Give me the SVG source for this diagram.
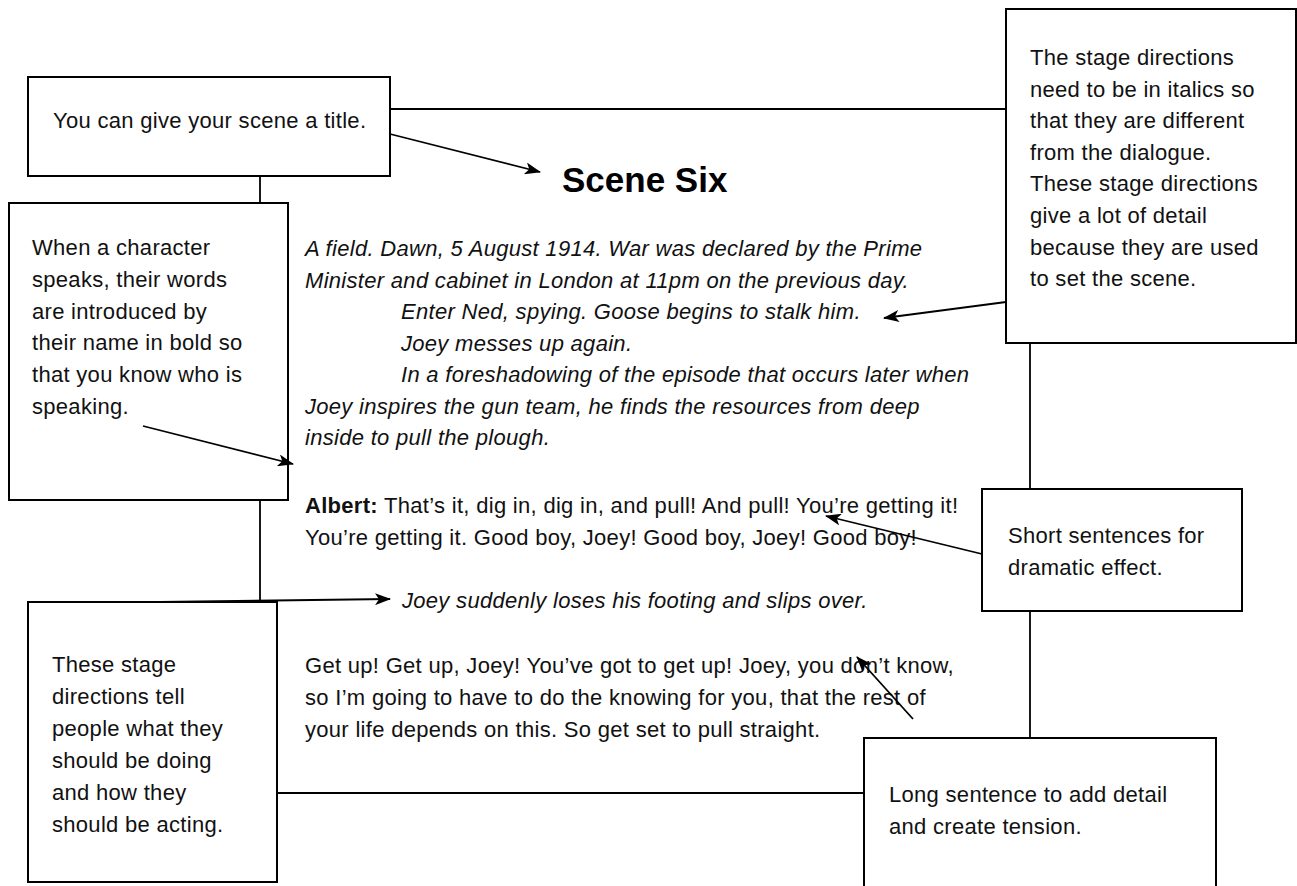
<svg xmlns="http://www.w3.org/2000/svg" width="1297" height="886" viewBox="0 0 1297 886">
<defs>
<style>
.box{fill:#fff;stroke:#000;stroke-width:2}
.t{font-family:"Liberation Sans",Arial,Helvetica,sans-serif;font-size:22px;letter-spacing:0.3px;fill:#111}
.i{font-style:italic}
.b{font-weight:bold}
.ttl{font-family:"Liberation Sans",Arial,Helvetica,sans-serif;font-size:35px;font-weight:bold;fill:#000}
.c{fill:none;stroke:#000;stroke-width:1.8}
.a{marker-end:url(#ah)}
</style>
<marker id="ah" markerUnits="userSpaceOnUse" markerWidth="16" markerHeight="12" refX="15" refY="6" orient="auto">
<path d="M0,0 L16,6 L0,12 L4,6 Z" fill="#000"/>
</marker>
</defs>
<rect width="1297" height="886" fill="#fff"/>

<g id="node-title-note">
<rect class="box" x="28" y="77" width="362" height="99"/>
<text class="t" x="53" y="128">You can give your scene a title.</text>
</g>

<g id="node-stage-note">
<rect class="box" x="1006" y="9" width="290" height="334"/>
<text class="t" x="1030" y="65">The stage directions</text>
<text class="t" x="1030" y="96.6">need to be in italics so</text>
<text class="t" x="1030" y="128.2">that they are different</text>
<text class="t" x="1030" y="159.8">from the dialogue.</text>
<text class="t" x="1030" y="191.4">These stage directions</text>
<text class="t" x="1030" y="223">give a lot of detail</text>
<text class="t" x="1030" y="254.6">because they are used</text>
<text class="t" x="1030" y="286.2">to set the scene.</text>
</g>

<g id="node-character-note">
<rect class="box" x="9" y="203" width="279" height="297"/>
<text class="t" x="32" y="255">When a character</text>
<text class="t" x="32" y="287">speaks, their words</text>
<text class="t" x="32" y="318.5">are introduced by</text>
<text class="t" x="32" y="350">their name in bold so</text>
<text class="t" x="32" y="382">that you know who is</text>
<text class="t" x="32" y="413.5">speaking.</text>
</g>

<g id="node-action-note">
<rect class="box" x="28" y="602" width="249" height="280"/>
<text class="t" x="52" y="672">These stage</text>
<text class="t" x="52" y="704">directions tell</text>
<text class="t" x="52" y="736">people what they</text>
<text class="t" x="52" y="768">should be doing</text>
<text class="t" x="52" y="800">and how they</text>
<text class="t" x="52" y="832">should be acting.</text>
</g>

<g id="node-short-note">
<rect class="box" x="982" y="489" width="260" height="122"/>
<text class="t" x="1008" y="543">Short sentences for</text>
<text class="t" x="1008" y="575">dramatic effect.</text>
</g>

<g id="node-long-note">
<rect class="box" x="864" y="738" width="352" height="170"/>
<text class="t" x="889" y="802">Long sentence to add detail</text>
<text class="t" x="889" y="834">and create tension.</text>
</g>

<g id="node-scene-title">
<text class="ttl" x="562" y="192">Scene Six</text>
</g>

<g id="node-script">
<text class="t i" x="305" y="256">A field. Dawn, 5 August 1914. War was declared by the Prime</text>
<text class="t i" x="305" y="287.5">Minister and cabinet in London at 11pm on the previous day.</text>
<text class="t i" x="401" y="319">Enter Ned, spying. Goose begins to stalk him.</text>
<text class="t i" x="401" y="350.5">Joey messes up again.</text>
<text class="t i" x="401" y="382">In a foreshadowing of the episode that occurs later when</text>
<text class="t i" x="305" y="413.5">Joey inspires the gun team, he finds the resources from deep</text>
<text class="t i" x="305" y="445">inside to pull the plough.</text>
<text class="t" x="305" y="513"><tspan class="b">Albert:</tspan> That’s it, dig in, dig in, and pull! And pull! You’re getting it!</text>
<text class="t" x="305" y="545">You’re getting it. Good boy, Joey! Good boy, Joey! Good boy!</text>
<text class="t i" x="402" y="608">Joey suddenly loses his footing and slips over.</text>
<text class="t" x="305" y="673">Get up! Get up, Joey! You’ve got to get up! Joey, you don’t know,</text>
<text class="t" x="305" y="705">so I’m going to have to do the knowing for you, that the rest of</text>
<text class="t" x="305" y="737">your life depends on this. So get set to pull straight.</text>
</g>

<g id="connectors">
<line class="c" x1="390" y1="109" x2="1006" y2="109"/>
<line class="c" x1="260" y1="176" x2="260" y2="203"/>
<line class="c" x1="260" y1="500" x2="260" y2="602"/>
<line class="c" x1="1030" y1="343" x2="1030" y2="489"/>
<line class="c" x1="1030" y1="611" x2="1030" y2="738"/>
<line class="c" x1="277" y1="793" x2="864" y2="793"/>
<line class="c a" x1="390" y1="134" x2="540" y2="172"/>
<line class="c a" x1="143" y1="426" x2="293" y2="464"/>
<line class="c a" x1="1006" y1="302" x2="884" y2="318"/>
<line class="c a" x1="982" y1="554" x2="826" y2="516"/>
<line class="c a" x1="160" y1="602" x2="390" y2="599"/>
<line class="c a" x1="913" y1="719" x2="857" y2="657"/>
</g>
</svg>
